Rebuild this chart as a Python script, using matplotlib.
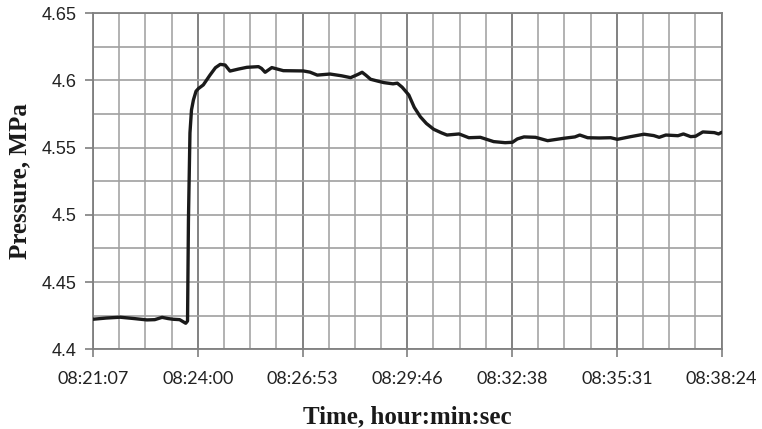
import numpy as np
import matplotlib
matplotlib.use("Agg")
import matplotlib.pyplot as plt

# seconds after 08:21:07 and pressure (MPa)
t_sec = [0, 22, 45, 68, 89, 102, 114, 124, 132, 143, 153, 156,
         157.5, 160, 162.5, 165.7, 170, 174, 182, 193, 202, 210, 218,
         226, 240, 254, 273, 278, 284, 295, 314, 347, 358, 370, 391,
         410, 425, 437, 444, 450, 458, 470, 480, 495, 502, 510, 521,
         530, 540, 550, 562, 575, 584, 604, 620, 639, 661, 680, 692,
         700, 711, 730, 750, 777, 795, 803, 816, 835, 854, 865, 887,
         909, 925, 934, 945, 965, 974, 986, 994, 1006, 1025, 1032, 1037]
pressure = [4.4223, 4.4232, 4.4238, 4.4228, 4.4218, 4.4220, 4.4237, 4.4228,
            4.4223, 4.4220, 4.4193, 4.4210,
            4.4960, 4.5610, 4.5780, 4.5855, 4.5920, 4.5940, 4.5967, 4.6040,
            4.6095, 4.6120, 4.6115, 4.6070, 4.6085, 4.6098, 4.6103, 4.6090,
            4.6061, 4.6096, 4.6073, 4.6071, 4.6062, 4.6040, 4.6048, 4.6035,
            4.6021, 4.6045, 4.6061, 4.6040, 4.6009, 4.5995, 4.5984, 4.5975,
            4.5980, 4.5950, 4.5892, 4.5800, 4.5730, 4.5680, 4.5637, 4.5610,
            4.5594, 4.5602, 4.5574, 4.5577, 4.5545, 4.5537, 4.5540, 4.5565,
            4.5580, 4.5577, 4.5552, 4.5570, 4.5580, 4.5594, 4.5574, 4.5572,
            4.5574, 4.5562, 4.5582, 4.5600, 4.5590, 4.5577, 4.5594, 4.5589,
            4.5602, 4.5582, 4.5585, 4.5617, 4.5612, 4.5602, 4.5614]

tick_labels = ["08:21:07", "08:24:00", "08:26:53", "08:29:46",
               "08:32:38", "08:35:31", "08:38:24"]
t_end = 1037

fig = plt.figure(figsize=(7.62, 4.29), dpi=100)
ax = fig.add_axes([0.122, 0.186, 0.825, 0.783])

ax.set_xlim(0, t_end)
ax.set_ylim(4.4, 4.65)

major_x = np.linspace(0, t_end, 7)
minor_x = np.linspace(0, t_end, 25)
ax.set_xticks(major_x)
ax.set_xticks(minor_x, minor=True)
ax.set_xticklabels(tick_labels, fontfamily="Lato", fontsize=13, color="#222222")
ax.set_yticks([4.4, 4.45, 4.5, 4.55, 4.6, 4.65])
ax.set_yticks(np.arange(4.4, 4.651, 0.025), minor=True)
ax.set_yticklabels(["4.4", "4.45", "4.5", "4.55", "4.6", "4.65"],
                   fontfamily="Liberation Sans", fontsize=13, color="#222222")

# grid: minor light gray, major vertical a bit darker
for x in minor_x:
    ax.axvline(x, color="#a6a6a6", lw=1.2, zorder=1)
for x in major_x:
    ax.axvline(x, color="#7f7f7f", lw=1.3, zorder=1)
for y in np.arange(4.4, 4.651, 0.025):
    ax.axhline(y, color="#a0a0a0", lw=1.2, zorder=1)

ax.tick_params(axis="x", which="major", direction="out", length=6, width=1.2,
               color="#7f7f7f", pad=10)
ax.tick_params(axis="y", which="major", direction="out", length=6, width=1.2,
               color="#7f7f7f", pad=6)
ax.tick_params(which="minor", length=0)

for side in ["left", "bottom"]:
    ax.spines[side].set_color("#7f7f7f")
    ax.spines[side].set_linewidth(1.3)
for side in ["top", "right"]:
    ax.spines[side].set_color("#808080")
    ax.spines[side].set_linewidth(1.3)

ax.plot(t_sec, pressure, color="#1a1a1a", lw=2.4, solid_joinstyle="round",
        solid_capstyle="round", zorder=3)

ax.set_xlabel("Time, hour:min:sec", fontfamily="Liberation Serif",
              fontweight="bold", fontsize=18, color="#1a1a1a", labelpad=13)
ax.set_ylabel("Pressure, MPa", fontfamily="Liberation Serif",
              fontweight="bold", fontsize=18, color="#1a1a1a", labelpad=7)

fig.savefig("out.png", dpi=100)
